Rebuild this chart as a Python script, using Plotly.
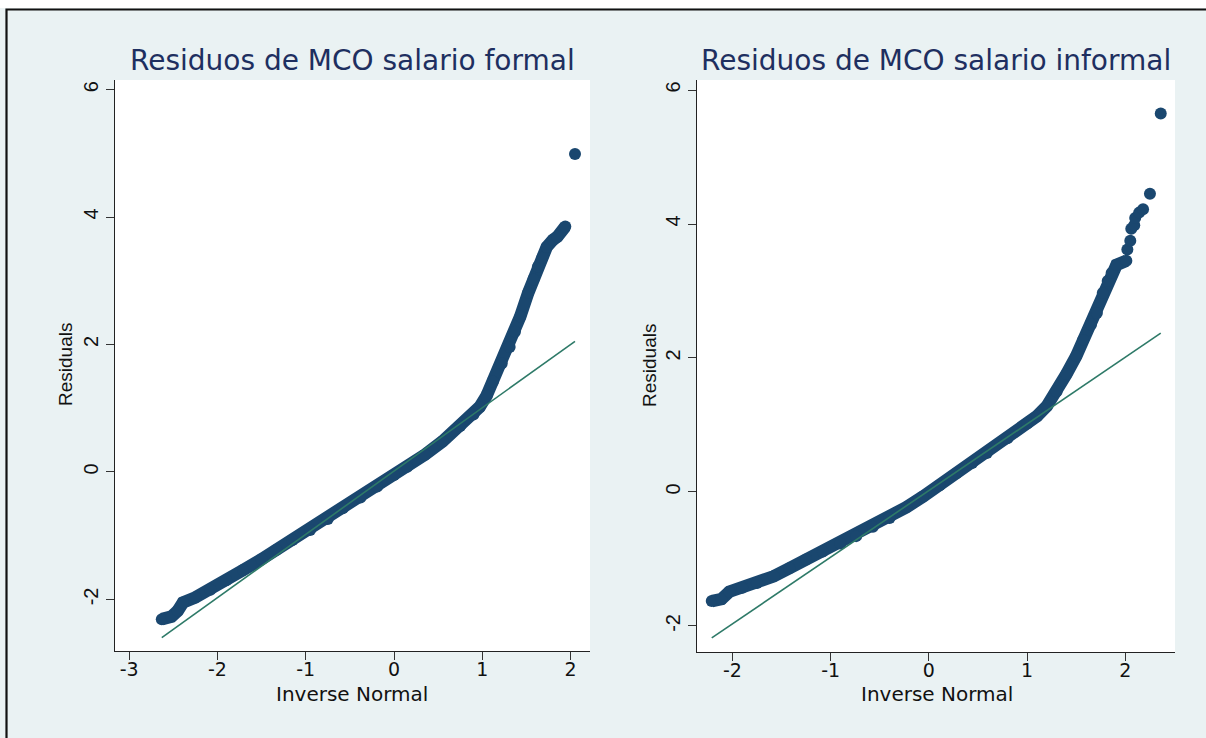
import plotly.graph_objects as go

# ---- data (x = inverse normal, y = residual) ----
formal_band_x = [-2.63, -2.52, -2.45, -2.39, -2.25, -2.08, -1.90, -1.71, -1.50, -1.33,
                 -1.15, -0.95, -0.75, -0.58, -0.38, -0.19, 0.00, 0.15, 0.35, 0.55,
                 0.75, 0.90, 0.97, 1.05, 1.12, 1.22, 1.31, 1.37, 1.43, 1.52, 1.58,
                 1.63, 1.68, 1.73, 1.80, 1.85, 1.94]
formal_band_y = [-2.31, -2.27, -2.18, -2.05, -1.97, -1.85, -1.70, -1.54, -1.37, -1.22,
                 -1.07, -0.91, -0.74, -0.57, -0.40, -0.23, -0.05, 0.08, 0.27, 0.48,
                 0.72, 0.90, 1.02, 1.20, 1.42, 1.70, 1.96, 2.20, 2.44, 2.81, 3.02,
                 3.22, 3.36, 3.53, 3.64, 3.69, 3.85]
formal_out_x = [2.05]
formal_out_y = [4.99]
formal_ref_x = [-2.63, 2.05]
formal_ref_y = [-2.60, 2.05]

informal_band_x = [-2.21, -2.11, -2.03, -1.90, -1.75, -1.58, -1.42, -1.25, -1.08, -0.90,
                   -0.74, -0.57, -0.40, -0.23, -0.06, 0.11, 0.28, 0.44, 0.59, 0.80,
                   1.00, 1.10, 1.20, 1.30, 1.40, 1.50, 1.57, 1.65, 1.71, 1.77, 1.82,
                   1.86, 1.91, 2.01]
informal_band_y = [-1.63, -1.60, -1.49, -1.43, -1.36, -1.26, -1.14, -1.01, -0.89, -0.77,
                   -0.66, -0.52, -0.39, -0.23, -0.07, 0.10, 0.28, 0.43, 0.58, 0.80,
                   1.02, 1.13, 1.28, 1.50, 1.76, 2.03, 2.27, 2.50, 2.67, 2.97, 3.15,
                   3.27, 3.39, 3.45]
informal_out_x = [2.02, 2.05, 2.06, 2.09, 2.10, 2.14, 2.18, 2.25, 2.36]
informal_out_y = [3.62, 3.75, 3.93, 3.98, 4.09, 4.17, 4.22, 4.45, 5.65]
informal_ref_x = [-2.21, 2.36]
informal_ref_y = [-2.18, 2.37]

y_ticks = [-2, 0, 2, 4, 6]
formal_x_ticks = [-3, -2, -1, 0, 1, 2]
informal_x_ticks = [-2, -1, 0, 1, 2]

titles = ["Residuos de MCO salario formal", "Residuos de MCO salario informal"]
x_title = "Inverse Normal"
y_title = "Residuals"

# ---- styling ----
W, H = 1206, 738
NAVY = "#1a476f"
GREEN = "#2e7a68"
BG = "#eaf2f3"
FONT = "Liberation Sans, Arial, sans-serif"
WIDE = "DejaVu Sans, Liberation Sans, sans-serif"

fig = go.Figure()

def add_panel(bx, by, ox, oy, rx, ry, xa, ya):
    fig.add_trace(go.Scatter(x=bx, y=by, mode="lines+markers", xaxis=xa, yaxis=ya,
                             line=dict(color=NAVY, width=12.5),
                             marker=dict(color=NAVY, size=12, line=dict(width=0)),
                             showlegend=False, hoverinfo="skip"))
    fig.add_trace(go.Scatter(x=ox, y=oy, mode="markers", xaxis=xa, yaxis=ya,
                             marker=dict(color=NAVY, size=12, line=dict(width=0)),
                             showlegend=False, hoverinfo="skip"))
    fig.add_trace(go.Scatter(x=rx, y=ry, mode="lines", xaxis=xa, yaxis=ya,
                             line=dict(color=GREEN, width=1.6),
                             showlegend=False, hoverinfo="skip"))

add_panel(formal_band_x, formal_band_y, formal_out_x, formal_out_y,
          formal_ref_x, formal_ref_y, "x", "y")
add_panel(informal_band_x, informal_band_y, informal_out_x, informal_out_y,
          informal_ref_x, informal_ref_y, "x2", "y2")

def px_x(p):
    return p / W

def px_y(p):
    return 1 - p / H

axis_common = dict(showgrid=False, zeroline=False, showline=True, linecolor="#222",
                   linewidth=1.3, ticks="outside", ticklen=8, tickcolor="#333",
                   tickwidth=1.2)
xtickfont = dict(family=WIDE, size=19, color="#111")
ytickfont = dict(family=FONT, size=20, color="#111")
xtitlefont = dict(family=WIDE, size=20, color="#111")
ytitlefont = dict(family=FONT, size=19, color="#111")
titlefont = dict(family=WIDE, size=28, color="#1e2f60")

xdom1 = [px_x(115), px_x(590)]
xdom2 = [px_x(697), px_x(1175)]
ydom1 = [px_y(651), px_y(80)]
ydom2 = [px_y(652), px_y(80)]

def txt(text, x, y, font, angle=0):
    return dict(text=text, xref="paper", yref="paper", x=px_x(x), y=px_y(y),
                xanchor="center", yanchor="middle", showarrow=False, font=font,
                textangle=angle)

fig.update_layout(
    width=W, height=H,
    margin=dict(l=0, r=0, t=0, b=0),
    paper_bgcolor=BG, plot_bgcolor="white",
    font=dict(family=FONT, color="#111"),
    xaxis=dict(domain=xdom1, range=[-3.16, 2.22], tickvals=formal_x_ticks,
               ticktext=[str(v) for v in formal_x_ticks], tickfont=xtickfont,
               ticklabelstandoff=-7, anchor="y", **axis_common),
    yaxis=dict(domain=ydom1, range=[-2.81, 6.15], tickvals=y_ticks,
               ticktext=[str(v) for v in y_ticks], tickangle=-90, tickfont=ytickfont,
               anchor="x", **axis_common),
    xaxis2=dict(domain=xdom2, range=[-2.36, 2.505], tickvals=informal_x_ticks,
                ticktext=[str(v) for v in informal_x_ticks], tickfont=xtickfont,
                ticklabelstandoff=-7, anchor="y2", **axis_common),
    yaxis2=dict(domain=ydom2, range=[-2.39, 6.15], tickvals=y_ticks,
                ticktext=[str(v) for v in y_ticks], tickangle=-90, tickfont=ytickfont,
                anchor="x2", **axis_common),
    annotations=[
        txt(titles[0], 352, 60, titlefont),
        txt(titles[1], 936, 60, titlefont),
        txt(x_title, 352, 694, xtitlefont),
        txt(x_title, 937, 694, xtitlefont),
        txt(y_title, 65, 365, ytitlefont, -90),
        txt(y_title, 650, 366, ytitlefont, -90),
    ],
    shapes=[
        dict(type="rect", xref="paper", yref="paper", x0=-0.01, x1=1.01,
             y0=px_y(8), y1=1.01, fillcolor="white", line=dict(width=0), layer="below"),
        dict(type="rect", xref="paper", yref="paper", x0=px_x(6.5), x1=1.02,
             y0=-0.02, y1=px_y(9.5), fillcolor="rgba(0,0,0,0)",
             line=dict(color="#111", width=2.2), layer="above"),
    ],
)

fig.write_html("out.html", config={"displayModeBar": False},
               post_script="document.body.style.margin='0';document.body.style.overflow='hidden';")
